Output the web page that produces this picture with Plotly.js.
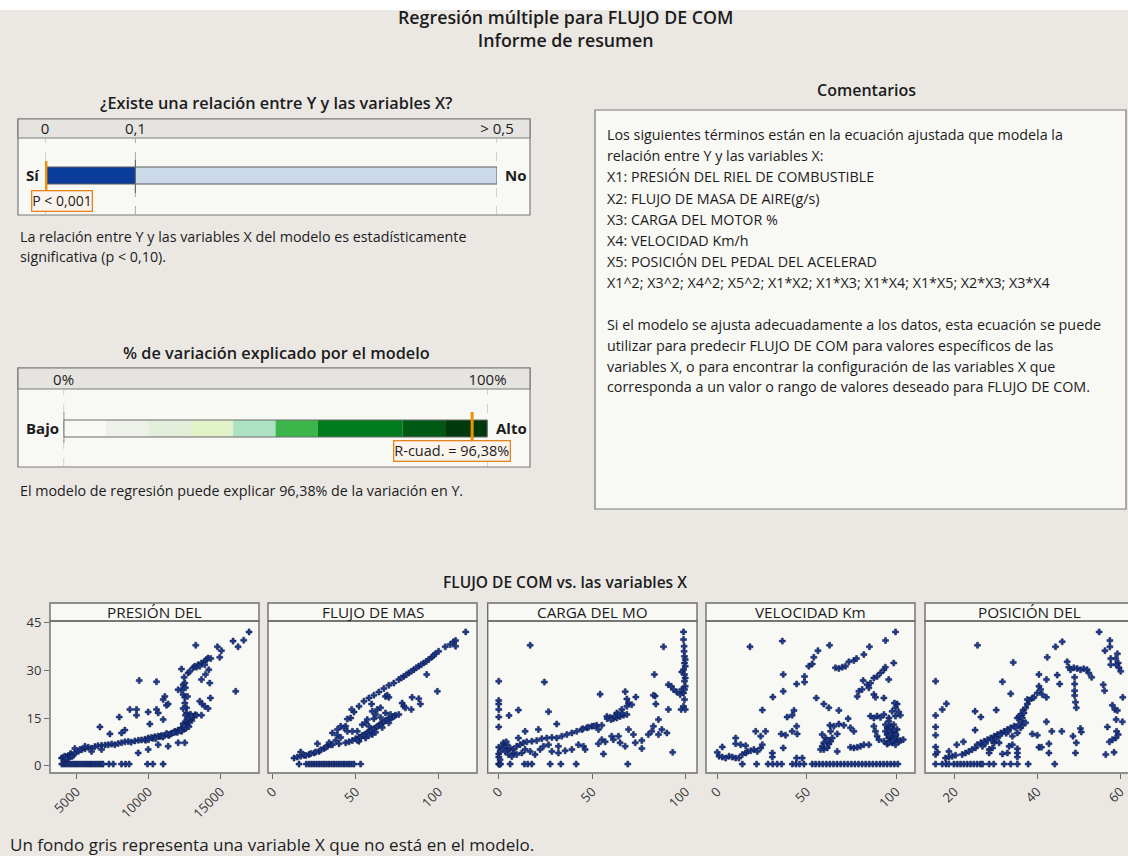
<!DOCTYPE html>
<html><head><meta charset="utf-8">
<script src="https://cdn.plot.ly/plotly-3.0.1.min.js"></script>
<style>html,body{margin:0;padding:0;background:#ebe8e4;}#chart{width:1128px;height:856px;}</style>
</head><body><div id="chart"></div>
<script>
// ---------------- DATA ----------------
const pValue = 0.001;
const pTicks = [0, 0.1, 0.5];
const pTickText = ['0', '0,1', '> 0,5'];
const pBreaks = [0, 0.1, 0.5];

const rsq = 96.38;
const rTicks = [0, 100];
const rTickText = ['0%', '100%'];
const rBreaks = [0, 10, 20, 30, 40, 50, 60, 80, 90, 100];

const panelNames = ['PRESIÓN DEL', 'FLUJO DE MAS', 'CARGA DEL MO', 'VELOCIDAD Km', 'POSICIÓN DEL'];
const yTicks = [0, 15, 30, 45];
const xTicks1 = [5000, 10000, 15000];
const xTicks2 = [0, 50, 100];
const xTicks3 = [0, 50, 100];
const xTicks4 = [0, 50, 100];
const xTicks5 = [20, 40, 60];
const zeroRowY = 0.5;

// PRESIÓN DEL RIEL
const presZeroX = [4000,4150,4300,4450,4600,4750,4900,5050,5200,5350,5500,5650,5800,5950,6100,6250,6400,6550,6700,6850,7260,7560,8130,8410,8660,9930,10300,11010];
const presPts = [[3985,2.4],[4100,2.6],[4216,2.4],[4330,2.8],[4446,3.0],[4560,3.2],[4677,3.5],[4400,2.2],[4600,3.8],[4800,3.3],
[4200,3.0],[4500,2.6],[4700,2.9],[4300,2.2],[9800,8.0],[10300,8.6],[10800,9.2],[11400,9.5],[11900,10.6],[12300,11.8],[12500,11.6],[12700,13.0],[12300,10.8],[13000,14.2],
[4907,4.0],[5138,4.5],[5368,5.0],[5600,5.3],[5829,5.8],[6050,5.5],[6290,6.0],[6500,6.3],[6751,6.4],[7000,6.5],[7212,6.6],[7450,6.8],[7673,6.6],[7900,7.0],[8134,7.2],[8365,7.5],[8595,7.6],[8800,7.4],[9056,7.8],[9300,8.0],[9517,8.1],[9750,8.3],[9978,8.7],[10200,8.9],[10439,9.1],[10650,9.3],[10900,9.5],[11130,9.6],[11361,9.8],[11600,10.2],[11822,10.8],[12050,11.2],[12283,11.5],[12400,12.0],[12514,12.9],[12600,13.5],[12744,14.0],[12850,14.5],[12975,15.0],[13100,15.5],[13235,16.0],[12600,11.8],[12800,12.3],[12400,13.2],
[10000,8.2],[10500,8.5],[11000,9.0],[11500,9.9],[12000,10.5],[12200,11.0],[12450,12.5],[12650,14.5],[12900,16.2],[11250,10.1],[11750,10.4],
[5253,5.1],[5600,6.1],[4900,5.4],[6636,12.2],[8364,11.2],[7327,10.0],[8134,10.3],
[12514,7.2],[12053,7.2],[11361,6.1],[10670,6.6],[9287,4.0],[9978,5.1],[6751,5.1],[6060,4.5],
[7973,15.3],[8710,17.7],[9171,17.7],[9171,15.9],[9978,16.9],[10554,17.7],[10670,16.6],[11015,14.5],[10093,13.1],[11130,21.8],[11015,20.8],[11245,19.0],[11361,19.4],[9356,26.8],[10554,26.4],
[12398,25.5],[12514,26.0],[12283,23.9],[12053,23.9],[12560,24.5],[12467,27.8],[12398,22.4],[12514,21.5],[12700,21.8],[12514,19.7],[12629,18.2],[12398,18.0],[12629,16.6],[12744,15.0],[12560,15.9],
[13550,20.3],[13712,19.4],[13897,18.7],[14127,18.0],[14288,21.3],[12975,15.6],[13320,15.9],[13666,15.9],
[12283,30.4],[12744,29.2],[12860,29.7],[13090,30.8],[13205,31.3],[13320,31.0],[13436,31.8],[13666,32.3],[13897,32.9],[14012,33.4],[14127,33.9],[14312,33.7],[13897,31.8],[13550,31.3],[14173,30.2],[13943,28.7],[13666,27.1],[14242,26.0],[13274,37.9],[14772,37.4],[15049,36.2],[14934,34.1],[15856,39.2],[16202,37.4],[16594,39.5],[16962,42.1],[16040,23.4]];

// FLUJO DE MASA DE AIRE
const flujoZeroX = [15.9,20.3,22,23.5,25,26.5,28,29.5,31,32.5,34,35.5,37,38.5,40,41.5,43,44.5,46,47.5,49,53];
const flujoPts = [[12.9,2.4],[14.9,2.7],[16.9,3.0],[18.9,3.3],[21.9,3.5],[25,4.0],[28,4.5],[31,5.4],[33,6.1],[35,6.6],[16.9,4.3],[27,6.9],
[20,3.2],[23,3.8],[26,4.3],[29,5.0],[32,5.8],
[34,7.2],[39,9.6],[44,12.4],[47,15.0],[49,16.9],[52,18.7],[55,20.3],[58,21.3],[61,22.2],[64,23.2],[67,24.3],[70,25.3],[73,26.0],[76,27.1],[79,28.1],[82,29.2],[85,30.2],[88,31.3],[91,32.3],[94,33.4],[100,36],[104,37.4],[107,38.1],[109,39.0],[110.2,39.4],[116.3,42.1],[110.2,37.6],
[77.5,27.6],[80.5,28.6],[83.5,29.7],[86.5,30.8],[89.5,31.8],[92.5,32.8],[96,34.2],[98,35.2],[97,34.7],
[36,6.6],[40,6.9],[44,7.2],[46,7.5],[48,7.9],[50,8.5],[52,8.9],[54,9.5],[56,10.0],[58,10.6],[60,11.3],[62,11.9],[64,12.7],[66,13.5],[68,14.2],[70,14.7],[72,15.2],[74,15.9],[76,16.1],[60,9.8],[56,8.7],[52,7.7],
[51,8.0],[53,9.0],[55,9.6],[57,10.4],[59,11.0],[61,11.6],[63,12.3],[65,13.0],[67,13.8],[69,14.4],[71,15.0],[73,15.5],[58,9.5],[62,10.5],[66,12.0],[70,13.5],
[36,10.3],[39,11.4],[41,12.4],[43,11.9],[45,10.8],[41,8.9],[38,7.9],[48,10.8],[51,10.8],[54,12.9],[56,13.5],[58,12.4],[57,14.5],[61,14.8],[62,16.1],[65,15.2],[60,17.1],[63,17.7],[65,18.2],[68,16.6],[71,16.1],[45,14.7],[47.6,17.7],[59.6,19.4],[68,21.8],[70,21.5],[69,22.2],[78,19.7],[79,18.7],[80,18.2],[83.5,17.7],[84,21.5],[88,21.1],[89,19.4],[92.8,28.7],[99.2,23.4]];

// CARGA DEL MOTOR
const cargaZeroX = [0,0.3,0.6,0.9,6.1,13.7,15.5,17.7,27.5,33.2,41.4,69];
const cargaPts = [[0,26.6],[0,20.5],[0,19.4],[0,17.7],[0,15.3],[0,12.2],[0,5.8],[0,3.7],[0,2.7],[0.7,4.5],[0.7,1.9],
[16.8,37.9],[24.4,26.3],[5.5,15.8],[10.5,17.5],[26.6,17.0],[54.2,22.5],[67.6,23.3],[73.3,21.6],[68.5,21.0],[69.4,19.7],[71.1,19.2],[88.1,37.4],[83.2,28.7],[93,4.2],
[2.5,7.2],[4.3,6.6],[6.1,5.6],[7.8,5.1],[9.6,6.1],[11.4,6.6],[13.2,7.2],[15,7.5],[17.7,7.7],[20.3,7.9],[23,8.5],[25.7,8.7],[28.4,8.9],[31,8.7],[33.7,9.3],[36.4,9.8],[39.1,10.3],[41.7,10.8],[44.4,11.4],[47.1,11.9],[49.8,12.4],[52.4,12.7],[55.1,12.7],[57.8,15.5],[59.6,15.2],[61.3,14.8],[63.1,15.0],[64.9,15.5],[66.7,15.9],[68.5,16.1],[63.1,16.6],[65.8,17.7],[68.5,18.7],
[45,11.6],[48,12.1],[51,12.5],[58,14.8],[60,14.5],[62,15.6],[64,16.1],[66,16.5],[1.5,6.0],[3,5.5],[5,4.8],[8,4.0],[4,7.5],
[3.4,4.5],[5.2,3.5],[7,2.9],[9.6,3.5],[12.3,4.0],[14.1,5.1],[16.8,4.5],[19.4,3.5],[22.1,5.1],[23.9,6.1],[26.6,6.6],[28.4,4.5],[31.9,6.1],[31.9,4.0],[35.5,4.7],[39.1,5.1],[42.6,6.6],[45.3,6.1],[46.2,5.1],[31,13.1],[21.2,11.4],[14.1,10.8],[10.5,8.7],[53.3,11.4],[55.1,8.2],[56.9,7.5],[60.4,9.3],[61.3,8.2],[64,9.3],[64.9,7.2],[67.6,6.1],[69.4,11.4],[72,9.8],[73,7.2],[76.5,7.9],[76.5,5.4],[80,9.8],[81.8,10.8],[82.7,12.4],[85.4,14.5],[87.2,11.4],[89.9,10.3],[85.4,9.8],[90.7,17.7],[56,3.7],[53.3,6.9],
[83.6,21.9],[84,19.4],[82.7,22.2],
[90.7,25.5],[92.2,25.0],[93.4,24.0],[95.2,23.2],[97,22.4],[98.8,22.9],[97.9,24.0],[99.3,20.8],[98.8,18.7],[97.5,17.7],[99.7,17.7],
[98.8,42.1],[98.8,39.7],[99.1,37.6],[99.1,36],[99.3,34.4],[99.7,33.4],[99.3,32.3],[99.7,31.3],[98.8,30.2],[97.9,29.5],[99.3,28.7],[99.7,27.6],[99.3,26.6],[99.7,25.0],[99.3,24.0]];

// VELOCIDAD Km/h
const veloZeroX = [14,22,28.4,31,33.5,36,42,44,46,48.5,53.1,55,57,59,61,63,65,67,69,71,73,75,77,79,81,83,85,87,89,91,93,95,97,99,101];
const veloPts = [[30.8,4.0],[30.8,2.7],[44.4,2.4],[47.5,2.4],[36.9,5.6],
[0,4.2],[1,3.0],[2.8,2.7],[4.7,2.4],[6.6,3.0],[8.4,2.7],[10.3,2.4],[12.1,2.4],[14,3.5],[15.9,4.0],[16.8,4.5],[18.7,4.7],[20.5,5.1],[22.4,4.5],[24.3,5.6],[25.2,6.6],[2.8,5.9],[10.3,8.7],[10.3,6.9],[13.1,6.6],[15.9,6.3],[21.5,10.8],[24.3,9.3],[27,10.8],[18.3,37.4],[36.4,39.2],[36.9,28.7],[36.9,23.4],[31.1,21.6],[25.2,17.5],[39.1,15.3],[41.9,15.9],[42.9,17.4],[35.8,10],[38.2,9.6],[41.9,10.8],[44.4,12.4],[44.7,10],
[44.4,25.7],[48.8,28.1],[48.8,26.3],[51.2,31.3],[53.1,32.0],[54,34.1],[56.3,36.2],[62.8,37.9],
[66.1,30.8],[68,30.6],[69.9,31],[71.7,31.3],[73.6,32.7],[76.4,33.1],[77.9,33.7],[82,35],[85.1,37.4],
[78.3,21.8],[79.2,23.4],[81,24],[81.6,26.8],[83.8,25.5],[84.8,24.5],[85.7,26.0],[87.6,27.6],[89.4,28.1],[91.3,29.2],[93.2,30.2],[94,31],[98.7,32.3],[94.1,39.4],[99.7,42.1],[95.9,27.1],[87.6,22.4],[88.5,21.5],[93.2,21.3],
[55.4,21.3],[59.6,19.4],[62.4,18.2],[68,17.4],[63,12.7],[65.2,12.4],[68,13.1],[70.8,12.7],[73.2,14.8],[74.5,11.9],[76.4,10.8],[63.4,10.8],[67.1,10],
[58.7,9.8],[60.6,8.7],[59.6,7.2],[58.7,6.1],[59.6,5.1],[61.5,5.6],[62.4,6.8],[63.4,7.7],[64.3,8.7],[61.5,7.9],[57.8,5.1],[67.1,4.5],
[74.5,5.8],[76.4,5.6],[78.3,5.8],[80.1,6.1],[82,6.6],[84.8,6.6],
[85.7,15.6],[87.6,15],[89.4,15.6],[91.3,15.2],[93.2,16.1],[96,15],[99.7,15.6],[102.4,15.9],[99.7,18.2],[100.6,19.4],[99.1,19.7],[97.8,17.1],[101.5,16.9],[87.6,12.4],[88.5,10.8],[89.4,9.3],[90.4,8.2],[93.2,7.7],[95,11.9],[96.9,12.4],[94.1,10.8],[95,9.8],[95.9,8.7],[96.9,7.7],[97.8,7.2],[98.7,10.3],[99.7,9.3],[100.6,8.2],[101.5,7.5],[96.9,10.8],[97.8,9.3],[95,6.8],[99.7,6.6],[102.4,7.9],[104,8.2],[95.9,14],[94.1,12.9],[100.6,11.4],[98.7,12.9],[96.5,9.0],[98.2,8.0],[97.2,11.5],[95.5,10.2],[99.2,10.0],
[96,9.5],[97,10],[98.5,9],[99,8.5],[100,9.8],[96.3,11],[97.5,12],[99,11.2],[98,7.8],[96,7.2]];

// POSICIÓN DEL PEDAL
const posZeroX = [15.5,17.1,18,18.7,19.9,20.7,21.5,22.3,23.1,23.9,24.7,25.5,26.3,26.8,28.4,29.5,32,33.6,35.2,37.8,44.2];
const posPts = [[15.5,26.6],[15.5,15.8],[15.5,12.2],[15.5,9.6],[15.5,5.9],[15.5,3.5],[15.9,4.3],
[17.1,17.7],[18.1,19.5],[25.6,37.9],[34.2,32.5],[33.6,22.6],[31.6,26.4],[30.1,17.5],[25,17.1],[26.4,15.3],[25,11.2],
[17.9,2.4],[18.7,2.7],[19.5,3],[20.3,3.3],[18.7,4.5],[20.6,6.6],[22.2,7.5],[21.9,3.5],[22.7,4.0],[23.5,4.5],[24.3,5.1],[25.1,5.6],[25.5,6.6],[26.4,7.2],[26.8,6.1],[27.2,7.7],[28,8.2],[28.8,8.7],[29.6,9.3],[30.4,9.8],[31.2,10.3],[32,10.8],[32.8,11.4],[33.6,11.9],[34.4,12.4],[28.4,5.1],[29.2,5.6],[28.4,4.0],[29.6,7.2],[30.8,7.2],[31.6,3.7],[32.8,4.0],[33.2,6.1],[34,6.6],[35.2,5.3],[35.2,4.0],[35.2,2.7],[34,9.3],[35.2,10.3],[36,11.9],[36.4,12.7],
[29,8.0],[30,9.0],[31,9.5],[32.5,10.2],[33,10.8],[34.8,12.0],[35.5,13.0],[36.2,14.0],[27.5,7.0],[30,8.3],[36,15.5],[36.6,17.5],
[35.2,15],[35.6,15.5],[36,16.1],[36.4,15],[36.8,16.6],[37.2,18.2],[37.6,19.4],[38,20.5],[38.8,21.3],[39.2,21.5],[40,22.9],[40.4,25],[40.8,24],[41.2,22.4],[42.2,21.5],[40.4,28.7],[42.2,27.1],[42.4,34.1],[44.4,37.4],[46,39],[44.8,28.5],[45.4,25.7],[37.2,13.5],[37.6,20.8],
[38.8,10],[40,9.6],[42.2,13.8],[40.4,5.8],[41,5.8],[42.8,6.9],[43.5,10.8],[45.9,10.8],[42.8,4],[48.6,9.3],[49.4,7.2],[49.2,4.0],[50.4,11.7],[50.6,10.6],
[47.2,32.7],[47.6,31],[48,30.2],[48.8,30.8],[49.6,30.6],[50.4,30.2],[51.2,30.5],[52,30.2],[52.4,29.2],[53.1,27.8],
[49,27.8],[49,25.7],[49,23.6],[49,22.1],[49.2,20],[49.4,18.2],
[54.9,42.1],[57.5,39.4],[56.3,36.2],[57.5,37.4],[59.3,35.2],[58.9,33.7],[59.5,32.3],[59,31.8],[59.7,30.8],[60.1,29.7],[57.7,33.7],[57.7,31.8],[55.9,25.5],[56.2,23.6],[60.6,21.5],[58.1,19.0],[58.7,17.7],[59.3,17.4],[59,14.5],[60.5,13.8],[56.9,12.2],[59.1,10.8],[59.5,9.8],[58.9,8.7],[58.1,8.2],[57.4,7.5],[58.5,4.2],[56.5,3.5]];

const commentLines = [
 'Los siguientes términos están en la ecuación ajustada que modela la',
 'relación entre Y y las variables X:',
 'X1: PRESIÓN DEL RIEL DE COMBUSTIBLE',
 'X2: FLUJO DE MASA DE AIRE(g/s)',
 'X3: CARGA DEL MOTOR %',
 'X4: VELOCIDAD Km/h',
 'X5: POSICIÓN DEL PEDAL DEL ACELERAD',
 'X1^2; X3^2; X4^2; X5^2; X1*X2; X1*X3; X1*X4; X1*X5; X2*X3; X3*X4',
 '',
 'Si el modelo se ajusta adecuadamente a los datos, esta ecuación se puede',
 'utilizar para predecir FLUJO DE COM para valores específicos de las',
 'variables X, o para encontrar la configuración de las variables X que',
 'corresponda a un valor o rango de valores deseado para FLUJO DE COM.'
];

// ---------------- LAYOUT HELPERS ----------------
const W = 1128, H = 856;
const X = p => p / W;
const Y = p => 1 - p / H;
const FONT = 'Open Sans, Noto Sans, sans-serif';
const TXT = '#1c1c1c';
const BODY = 14.3;

const markerStyle = {symbol: 'cross', size: 5, color: '#1f3b8f', line: {color: '#0b1845', width: 0.5}};

function buildScatter(zeroX, pts, xa) {
  const xs = zeroX.concat(pts.map(p => p[0]));
  const ys = zeroX.map(() => zeroRowY).concat(pts.map(p => p[1]));
  return {type: 'scatter', mode: 'markers', x: xs, y: ys, xaxis: xa, yaxis: 'y', marker: markerStyle, hoverinfo: 'x+y', cliponaxis: false};
}

const traces = [
  buildScatter(presZeroX, presPts, 'x'),
  buildScatter(flujoZeroX, flujoPts, 'x2'),
  buildScatter(cargaZeroX, cargaPts, 'x3'),
  buildScatter(veloZeroX, veloPts, 'x4'),
  buildScatter(posZeroX, posPts, 'x5'),
];

// p-value gauge bar
const pStarts = pBreaks.slice(0, -1);
const pWidths = pStarts.map((s, i) => pBreaks[i + 1] - s);
traces.push({type: 'bar', orientation: 'h', xaxis: 'x6', yaxis: 'y6', y: pStarts.map(() => 0), x: pWidths, base: pStarts,
  width: 1, marker: {color: ['#0a3c9c', '#cbdaeb'], line: {color: '#5a5a5a', width: 1}}, hoverinfo: 'skip'});

// R-sq gauge bar
const rStarts = rBreaks.slice(0, -1);
const rWidths = rStarts.map((s, i) => rBreaks[i + 1] - s);
traces.push({type: 'bar', orientation: 'h', xaxis: 'x7', yaxis: 'y7', y: rStarts.map(() => 0), x: rWidths, base: rStarts,
  width: 1, marker: {color: ['#f8f8f5', '#eef0ea', '#e2eeda', '#e2f2c8', '#ace2c2', '#3cb64a', '#007b1e', '#005a15', '#003a0c'], line: {width: 0}}, hoverinfo: 'skip'});

const xTickStyle = {showgrid: false, zeroline: false, showline: false, ticks: 'outside', ticklen: 5, tickwidth: 1, tickcolor: '#6e6e6e',
  tickangle: -45, tickformat: 'd', tickfont: {family: FONT, size: 13, color: '#333'}, anchor: 'y', fixedrange: true};

const panels = [[50, 259], [268, 477], [487.7, 697], [706, 915], [925, 1134]];

const layout = {
  width: W, height: H, margin: {l: 0, r: 0, t: 0, b: 0}, autosize: false,
  paper_bgcolor: '#ebe8e4', plot_bgcolor: '#f8f8f5', showlegend: false,
  font: {family: FONT, color: TXT},
  xaxis: Object.assign({}, xTickStyle, {domain: [X(50), X(259)], range: [3179, 17652], tickvals: xTicks1}),
  xaxis2: Object.assign({}, xTickStyle, {domain: [X(268), X(477)], range: [-2.8, 123.1], tickvals: xTicks2}),
  xaxis3: Object.assign({}, xTickStyle, {domain: [X(487.7), X(697)], range: [-5.9, 106], tickvals: xTicks3}),
  xaxis4: Object.assign({}, xTickStyle, {domain: [X(706), X(915)], range: [-6.3, 110.6], tickvals: xTicks4}),
  xaxis5: Object.assign({}, xTickStyle, {domain: [X(925), 1], range: [12.94, 61.86], tickvals: xTicks5}),
  yaxis: {domain: [Y(773), Y(621)], range: [-2.3, 45.53], tickvals: yTicks, anchor: 'x', showgrid: false, zeroline: false, showline: false,
    ticks: 'outside', ticklen: 5, tickcolor: '#6e6e6e', tickfont: {family: FONT, size: 13, color: '#333'}, fixedrange: true},
  xaxis6: {domain: [X(45), X(497)], range: [0, 0.5], anchor: 'y6', side: 'top', tickvals: pTicks, ticktext: pTickText,
    showgrid: false, zeroline: false, showline: false, ticks: '', tickfont: {family: FONT, size: 15, color: TXT}, fixedrange: true},
  yaxis6: {domain: [Y(215), Y(138)], range: [-2.324, 2.206], visible: false, anchor: 'x6', fixedrange: true},
  xaxis7: {domain: [X(63.6), X(487.5)], range: [0, 100], anchor: 'y7', side: 'top', tickvals: rTicks, ticktext: rTickText,
    showgrid: false, zeroline: false, showline: false, ticks: '', tickfont: {family: FONT, size: 15, color: TXT}, fixedrange: true},
  yaxis7: {domain: [Y(467), Y(389)], range: [-2.265, 2.324], visible: false, anchor: 'x7', fixedrange: true},
  shapes: [], annotations: []
};

const S = layout.shapes, A = layout.annotations;
function rectPx(x0, y0, x1, y1, fill, line, lw, layer) {
  S.push({type: 'rect', xref: 'paper', yref: 'paper', x0: X(x0), x1: X(x1), y0: Y(y1), y1: Y(y0),
    fillcolor: fill, line: {color: line || 'rgba(0,0,0,0)', width: lw || 0}, layer: layer || 'below'});
}
function text(t, px, py, opt) {
  opt = opt || {};
  A.push(Object.assign({text: t, x: X(px), y: Y(py), xref: 'paper', yref: 'paper', showarrow: false,
    xanchor: opt.xa || 'center', yanchor: 'middle',
    font: {family: FONT, size: opt.size || BODY, color: TXT, weight: opt.weight || 400}}, opt.extra || {}));
}

// top white strip
rectPx(0, 0, W, 10, '#ffffff', null, 0);

// gauge boxes
rectPx(18, 119, 530, 215, '#f8f8f5', '#7a7a7a', 1.2);
rectPx(18, 119, 530, 138, '#e6e4e0', '#7a7a7a', 1.2);
rectPx(18, 368, 530, 467, '#f8f8f5', '#7a7a7a', 1.2);
rectPx(18, 368, 530, 389, '#e6e4e0', '#7a7a7a', 1.2);
pTicks.forEach(v => S.push({type: 'line', xref: 'x6', yref: 'paper', x0: v, x1: v, y0: Y(215), y1: Y(138),
  line: {color: '#a8a8a8', width: 1, dash: 'dash'}, layer: 'below'}));
rTicks.forEach(v => S.push({type: 'line', xref: 'x7', yref: 'paper', x0: v, x1: v, y0: Y(467), y1: Y(389),
  line: {color: '#a8a8a8', width: 1, dash: 'dash'}, layer: 'below'}));
S.push({type: 'line', xref: 'x6', yref: 'paper', x0: pTicks[1], x1: pTicks[1], y0: Y(193), y1: Y(160), line: {color: '#6a6a6a', width: 1.2}});
S.push({type: 'rect', xref: 'x7', yref: 'y7', x0: rBreaks[0], x1: rBreaks[rBreaks.length - 1], y0: -0.5, y1: 0.5, line: {color: '#6a6a6a', width: 1.2}});
S.push({type: 'line', xref: 'x7', yref: 'paper', x0: rTicks[0], x1: rTicks[0], y0: Y(443), y1: Y(412), line: {color: '#6a6a6a', width: 1.4}});
S.push({type: 'line', xref: 'x7', yref: 'paper', x0: rTicks[1], x1: rTicks[1], y0: Y(437), y1: Y(420), line: {color: '#6a6a6a', width: 1.4}});
// orange markers
S.push({type: 'line', xref: 'x6', yref: 'paper', x0: pValue, x1: pValue, y0: Y(196), y1: Y(161), line: {color: '#f39200', width: 3}});
S.push({type: 'line', xref: 'x7', yref: 'paper', x0: rsq, x1: rsq, y0: Y(443), y1: Y(412), line: {color: '#f39200', width: 3}});

// comment box
rectPx(595, 110, 1126, 509, '#f8f8f5', '#7a7a7a', 1.2);

// scatter panels frames
panels.forEach(([x0, x1]) => {
  rectPx(x0, 603, x1, 621, '#f8f8f5', '#6e6e6e', 1.4);
  rectPx(x0, 621, x1, 773, 'rgba(0,0,0,0)', '#6e6e6e', 1.4, 'above');
});

// texts
text('Regresión múltiple para FLUJO DE COM<br>Informe de resumen', 565, 28.5, {size: 17.8, weight: 600});
text('¿Existe una relación entre Y y las variables X?', 276, 103, {size: 16.3, weight: 600});
text('% de variación explicado por el modelo', 276, 353, {size: 16.3, weight: 600});
text('Comentarios', 866, 90, {size: 16, weight: 600});
text('Sí', 33, 175, {size: 15, weight: 700});
text('No', 515, 175, {size: 15, weight: 700});
text('Bajo', 42, 428, {size: 15, weight: 700});
text('Alto', 511, 428, {size: 15, weight: 700});
text('P &lt; 0,001', 62.5, 200.5, {size: 14, extra: {bordercolor: '#e8821e', borderwidth: 1.3, bgcolor: '#fbf4ec', borderpad: 0}});
text('R-cuad. = ' + String(rsq).replace('.', ',') + '%', 452, 451, {size: 14.5, extra: {bordercolor: '#e8821e', borderwidth: 1.3, bgcolor: '#fbf4ec', borderpad: 0}});
text('La relación entre Y y las variables X del modelo es estadísticamente', 18, 237, {xa: 'left'});
text('significativa (p &lt; 0,10).', 18, 256, {xa: 'left'});
text('El modelo de regresión puede explicar ' + String(rsq).replace('.', ',') + '% de la variación en Y.', 18, 490, {xa: 'left'});
commentLines.forEach((l, i) => { if (l) text(l, 605, 135 + 21 * i, {xa: 'left'}); });
text('FLUJO DE COM vs. las variables X', 565, 582, {size: 15.5, weight: 600});
panels.forEach(([x0, x1], i) => text(panelNames[i], (x0 + x1) / 2, 612, {size: 15.3}));
text('Un fondo gris representa una variable X que no está en el modelo.', 8, 844, {xa: 'left', size: 17});

Plotly.newPlot('chart', traces, layout, {staticPlot: true, displayModeBar: false});
</script></body></html>
